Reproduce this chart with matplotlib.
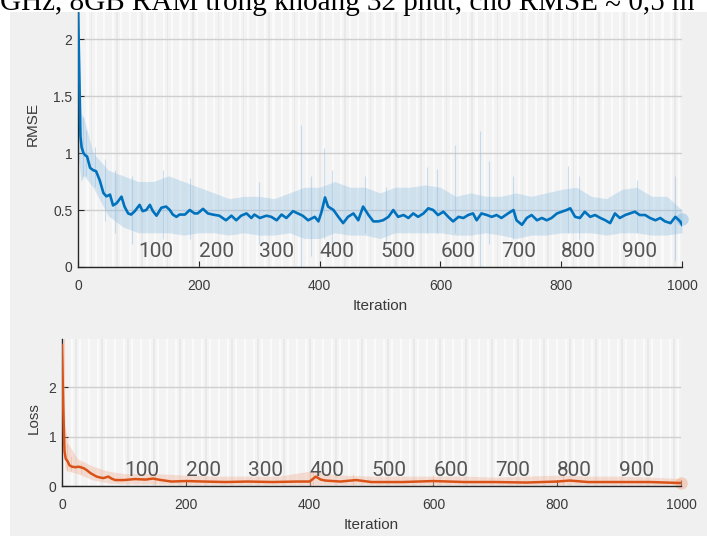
import numpy as np
import matplotlib
matplotlib.use("Agg")
import matplotlib.pyplot as plt
from matplotlib.patches import Rectangle
from matplotlib.transforms import blended_transform_factory

# ---------------- data ----------------
header_text = "GHz, 8GB RAM trong khoảng 32 phút, cho RMSE ≈ 0,5 m"

rmse_iter = [0, 2, 4, 6, 9, 12, 15, 20, 25, 30, 36, 42, 47, 53, 58, 64, 72, 77, 83, 88,
             94, 102, 107, 113, 119, 124, 130, 138, 146, 152, 157, 163, 168, 177, 185,
             193, 198, 207, 215, 223, 234, 245, 254, 262, 270, 279, 287, 292, 301, 312,
             320, 329, 337, 345, 356, 364, 372, 381, 392, 398, 403, 409, 414, 423, 431,
             439, 447, 456, 464, 472, 481, 489, 497, 505, 514, 522, 530, 539, 547, 555,
             563, 572, 580, 588, 596, 605, 613, 621, 630, 638, 646, 654, 660, 668, 677,
             685, 693, 701, 712, 721, 726, 735, 743, 751, 760, 768, 776, 784, 793, 801,
             809, 815, 823, 831, 839, 848, 856, 865, 873, 881, 889, 897, 906, 914, 922,
             930, 939, 947, 956, 964, 972, 981, 989, 997, 1000]
rmse_smooth = [2.3, 1.7, 1.15, 1.05, 1.0, 0.98, 0.97, 0.87, 0.85, 0.84, 0.76, 0.65, 0.62,
               0.635, 0.54, 0.56, 0.617, 0.53, 0.47, 0.46, 0.49, 0.545, 0.49, 0.50, 0.545,
               0.49, 0.45, 0.52, 0.53, 0.50, 0.46, 0.44, 0.46, 0.46, 0.50, 0.47, 0.47,
               0.51, 0.47, 0.46, 0.45, 0.41, 0.45, 0.41, 0.45, 0.47, 0.43, 0.46, 0.43,
               0.45, 0.44, 0.41, 0.46, 0.43, 0.49, 0.47, 0.45, 0.41, 0.44, 0.40, 0.48,
               0.61, 0.53, 0.50, 0.44, 0.385, 0.44, 0.47, 0.41, 0.53, 0.456, 0.40, 0.40,
               0.41, 0.44, 0.50, 0.44, 0.456, 0.43, 0.47, 0.44, 0.47, 0.515, 0.50, 0.456,
               0.485, 0.44, 0.40, 0.44, 0.43, 0.456, 0.47, 0.41, 0.47, 0.456, 0.44, 0.456,
               0.43, 0.47, 0.50, 0.41, 0.37, 0.43, 0.456, 0.41, 0.43, 0.41, 0.43, 0.47,
               0.485, 0.50, 0.515, 0.44, 0.43, 0.485, 0.44, 0.456, 0.43, 0.41, 0.385,
               0.47, 0.43, 0.456, 0.47, 0.485, 0.456, 0.456, 0.43, 0.41, 0.43, 0.40,
               0.385, 0.44, 0.40, 0.37]

rmse_band_iter = [0, 5, 10] + list(range(25, 1001, 25))
rmse_raw_upper = [2.4, 1.35, 1.3, 1.0, 0.85, 0.8, 0.75, 0.75, 0.8, 0.75, 0.7, 0.65, 0.6,
                  0.62, 0.62, 0.6, 0.65, 0.7, 0.7, 0.75, 0.7, 0.7, 0.65, 0.7, 0.7, 0.72,
                  0.7, 0.62, 0.65, 0.62, 0.62, 0.65, 0.62, 0.65, 0.68, 0.7, 0.62, 0.6,
                  0.68, 0.7, 0.62, 0.62, 0.5]
rmse_raw_lower = [1.0, 0.75, 0.8, 0.7, 0.45, 0.35, 0.3, 0.3, 0.3, 0.28, 0.3, 0.3, 0.28,
                  0.3, 0.28, 0.28, 0.3, 0.25, 0.25, 0.3, 0.28, 0.28, 0.25, 0.3, 0.3, 0.3,
                  0.3, 0.28, 0.28, 0.3, 0.28, 0.25, 0.28, 0.28, 0.3, 0.3, 0.3, 0.28, 0.3,
                  0.3, 0.28, 0.28, 0.3]
rmse_spike_iter = [8, 14, 28, 45, 62, 90, 140, 185, 300, 370, 385, 407, 421, 475, 510,
                   577, 594, 624, 665, 680, 720, 811, 830, 925, 988]
rmse_spike_low = [0.8, 0.8, 0.7, 0.4, 0.3, 0.2, 0.25, 0.25, 0.2, 0.0, 0.1, 0.25, 0.2,
                  0.3, 0.2, 0.3, 0.3, 0.3, 0.0, 0.2, 0.25, 0.3, 0.25, 0.3, 0.05]
rmse_spike_high = [1.32, 1.2, 1.05, 0.95, 0.85, 0.8, 0.85, 0.78, 0.75, 1.25, 0.8, 1.04,
                   0.85, 0.8, 0.7, 0.88, 0.86, 1.07, 1.19, 0.93, 0.8, 0.89, 0.8, 0.76, 0.8]

loss_iter = [0, 2, 4, 6, 9, 12, 16, 22, 27, 35, 40, 46, 56, 62, 67, 75, 80, 86, 100, 118,
             135, 147, 160, 177, 200, 230, 264, 300, 340, 380, 400, 410, 418, 425, 450,
             475, 500, 550, 600, 650, 700, 750, 800, 820, 850, 900, 950, 1000]
loss_smooth = [2.85, 1.6, 0.7, 0.55, 0.5, 0.42, 0.39, 0.38, 0.39, 0.36, 0.32, 0.26, 0.19,
               0.17, 0.16, 0.19, 0.15, 0.12, 0.12, 0.14, 0.13, 0.15, 0.12, 0.09, 0.10,
               0.09, 0.08, 0.09, 0.08, 0.09, 0.09, 0.19, 0.13, 0.11, 0.09, 0.12, 0.08,
               0.08, 0.10, 0.08, 0.08, 0.07, 0.09, 0.11, 0.08, 0.08, 0.08, 0.06]
loss_band_iter = [0, 5, 10, 25, 50, 75] + list(range(100, 1001, 50))
loss_raw_upper = [2.95, 1.2, 0.85, 0.55, 0.4, 0.3, 0.25, 0.25, 0.22, 0.2, 0.2, 0.2, 0.3,
                  0.22, 0.2, 0.2, 0.2, 0.2, 0.18, 0.2, 0.22, 0.2, 0.2, 0.18, 0.15]
loss_raw_lower = [2.0, 0.35, 0.3, 0.25, 0.12, 0.06, 0.04, 0.04, 0.03, 0.03, 0.03, 0.03,
                  0.03, 0.03, 0.03, 0.02, 0.03, 0.03, 0.02, 0.02, 0.03, 0.03, 0.02, 0.02,
                  0.02]
loss_spike_iter = [3, 8, 14, 30, 150, 400, 405, 470, 600, 810]
loss_spike_low = [0.9, 0.3, 0.3, 0.25, 0.03, 0.0, 0.02, 0.03, 0.03, 0.03]
loss_spike_high = [3.0, 0.85, 0.6, 0.45, 0.3, 0.3, 0.32, 0.25, 0.22, 0.25]

epoch_labels = ["100", "200", "300", "400", "500", "600", "700", "800", "900"]
epoch_label_iter = [100, 200, 300, 400, 500, 600, 700, 800, 900]

xticks = [0, 200, 400, 600, 800, 1000]
rmse_yticks = [0, 0.5, 1, 1.5, 2]
rmse_yticklabels = ["0", "0.5", "1", "1.5", "2"]
loss_yticks = [0, 1, 2]

# ---------------- style ----------------
W, H = 707, 537
plt.rcParams['font.family'] = ['Liberation Sans', 'DejaVu Sans']
fig = plt.figure(figsize=(W / 100, H / 100), dpi=100, facecolor='white')

# gray panel (behind the axes)
fig.patches.append(Rectangle((10 / W, 1 / H), 1 - 10 / W, 1 - 13 / H,
                             transform=fig.transFigure, facecolor='#f0f0f0',
                             edgecolor='none', zorder=-10))

def px_axes(l, t, r, b):
    return [l / W, 1 - b / H, (r - l) / W, (b - t) / H]

ax1 = fig.add_axes(px_axes(78, 12, 682, 267))
ax2 = fig.add_axes(px_axes(62, 339, 681, 486))

BLUE = '#0072BD'
BLUE_L = '#8dbde3'
ORANGE = '#D95319'
ORANGE_L = '#f2ab8c'
TXT = '#3a3a3a'

def style(ax, ylim_top, yticks, ylabels):
    ax.set_facecolor('#f3f3f3')
    ax.set_xlim(0, 1000)
    ax.set_ylim(0, ylim_top)
    # alternating light stripes in the background
    edges = np.arange(0, 1000, 7)
    for i, e in enumerate(edges):
        if i % 2 == 0:
            ax.axvspan(e, e + 3.5, color='#fafafa', lw=0, zorder=0)
        elif i % 3 == 0:
            ax.axvspan(e, e + 2.5, color='#e9e9e9', lw=0, zorder=0)
    ax.set_yticks(yticks)
    ax.set_yticklabels(ylabels)
    ax.set_xticks(xticks)
    ax.grid(axis='y', color='#cfcfcf', lw=1.0, zorder=0.5)
    ax.set_axisbelow(True)
    for s in ['top', 'right']:
        ax.spines[s].set_visible(False)
    for s in ['left', 'bottom']:
        ax.spines[s].set_color('#262626')
        ax.spines[s].set_linewidth(1.0)
    ax.tick_params(direction='in', length=4, width=0.8, color='#262626',
                   labelsize=10, labelcolor=TXT)
    ax.tick_params(axis='x', pad=8.5)
    ax.tick_params(axis='y', pad=4)

style(ax1, 2.237, rmse_yticks, rmse_yticklabels)
style(ax2, 2.97, loss_yticks, [str(v) for v in loss_yticks])

# raw haze
ax1.fill_between(rmse_band_iter, rmse_raw_lower, rmse_raw_upper, color=BLUE_L,
                 alpha=0.35, lw=0, zorder=2)
ax1.vlines(rmse_spike_iter, rmse_spike_low, rmse_spike_high, color=BLUE_L,
           alpha=0.45, lw=0.8, zorder=2)
ax1.plot([rmse_band_iter[-1]], [0.42], 'o', ms=9, color=BLUE_L, alpha=0.5,
         mec='none', zorder=2, clip_on=False)
ax2.fill_between(loss_band_iter, loss_raw_lower, loss_raw_upper, color=ORANGE_L,
                 alpha=0.35, lw=0, zorder=2)
ax2.vlines(loss_spike_iter, loss_spike_low, loss_spike_high, color=ORANGE_L,
           alpha=0.45, lw=0.8, zorder=2)
ax2.plot([loss_band_iter[-1]], [0.07], 'o', ms=9, color=ORANGE_L, alpha=0.5,
         mec='none', zorder=2, clip_on=False)

# smoothed lines
ax1.plot(rmse_iter, rmse_smooth, color=BLUE, lw=1.9, zorder=4)
ax2.plot(loss_iter, loss_smooth, color=ORANGE, lw=1.8, zorder=4)

# epoch labels
for ax, axh in ((ax1, 255), (ax2, 147)):
    tr = blended_transform_factory(ax.transData, ax.transAxes)
    for lab, it in zip(epoch_labels, epoch_label_iter):
        ax.text(it, 10 / axh, lab, transform=tr, ha='left', va='baseline',
                fontsize=15, color='#555555', family=['Roboto', 'DejaVu Sans'],
                fontweight='normal', zorder=3)

# labels
ax1.set_xlabel('Iteration', fontsize=11, color=TXT)
ax1.set_ylabel('RMSE', fontsize=11, color=TXT)
ax1.xaxis.set_label_coords(0.5, (267 - 306) / 255)
ax1.yaxis.set_label_coords((33 - 78) / 604, (267 - 124) / 255)
ax2.set_xlabel('Iteration', fontsize=11, color=TXT)
ax2.set_ylabel('Loss', fontsize=11, color=TXT)
ax2.xaxis.set_label_coords(0.5, (486 - 525) / 147)
ax2.yaxis.set_label_coords((33.5 - 62) / 619, (486 - 418) / 147)
for ax in (ax1, ax2):
    ax.xaxis.label.set_va('center')
    ax.yaxis.label.set_va('center')

# header text (cut-off document line above the screenshot)
fig.patches.append(Rectangle((0, 1 - 12 / H), 1, 12 / H, transform=fig.transFigure,
                             facecolor='white', edgecolor='none', zorder=5))
fig.text(0.0, 1 - 10 / H, header_text, fontsize=21, color='black',
         family=['Liberation Serif', 'DejaVu Serif'], ha='left', va='baseline',
         zorder=6)

fig.savefig('out.png', dpi=100, facecolor='white')
